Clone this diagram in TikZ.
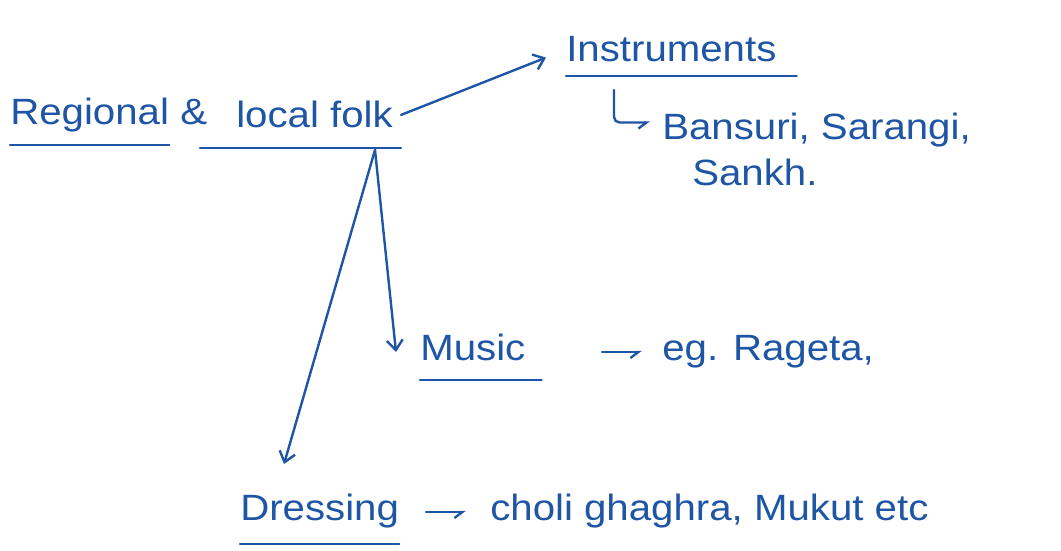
\documentclass[tikz,border=0pt]{standalone}
\usepackage{fontspec}
\setmainfont[FakeStretch=1.1]{Liberation Sans}
\usepackage{xcolor}
\usetikzlibrary{positioning,arrows.meta}
\definecolor{ink}{RGB}{30,85,165}

\begin{document}
\begin{tikzpicture}[
  x=0.025cm, y=-0.025cm,
  note/.style={text=ink, inner sep=0pt, anchor=base west,
               font=\fontsize{26}{31}\selectfont},
  ul/.style={draw=ink, line width=1.7pt, line cap=round},
  arr/.style={ul, -{Straight Barb[length=2.5mm,width=4mm]}},
  harp/.style={ul, -{Straight Barb[harpoon,swap,length=2mm,width=3mm]}}
]
\useasboundingbox (0,0) rectangle (1061,551);

\node[note] (regional) at (10,125)  {Regional};
\node[note] (amp)      at (180,125) {\&};
\node[note] (folk)     at (236,128) {local folk};
\node[note] (instr)    at (566,62)  {Instruments};
\node[note] (bansuri)  at (662,140) {Bansuri, Sarangi,};
\node[note] (sankh)    at (692,186) {Sankh.};
\node[note] (music)    at (420,360) {Music};
\node[note] (musiceg)  at (662,360) {eg. Rageta,};
\node[note] (dress)    at (240,520) {Dressing};
\node[note] (dresseg)  at (490,520) {choli ghaghra, Mukut etc};

\coordinate (split) at (375,150);

% underlines
\draw[ul] ([yshift=-5mm]regional.base west) -- ([yshift=-5mm]regional.base east);
\draw[ul] ([xshift=-9mm,yshift=-5mm]folk.base west) -- ([xshift=2mm,yshift=-5mm]folk.base east);
\draw[ul] ([yshift=-3.5mm]instr.base west) -- ([xshift=5mm,yshift=-3.5mm]instr.base east);
\draw[ul] ([yshift=-5mm]music.base west) -- ([xshift=4mm,yshift=-5mm]music.base east);
\draw[ul] ([yshift=-6mm]dress.base west) -- ([yshift=-6mm]dress.base east);

\draw[arr] ([xshift=2mm]folk.east) -- ([xshift=-5mm,yshift=-2mm]instr.west);
\draw[harp, rounded corners=4pt] ([xshift=12mm,yshift=-7mm]instr.base west)
  |- ([xshift=-3mm,yshift=2mm]bansuri.west);
\draw[arr] (split) -- ([xshift=-6mm,yshift=2mm]music.base west);
\draw[arr] (split) -- ([xshift=11mm,yshift=14mm]dress.base west);
\draw[harp] ([xshift=-15mm,yshift=2mm]musiceg.base west) -- ([xshift=-5mm,yshift=2mm]musiceg.base west);
\draw[harp] ([xshift=-16mm,yshift=2mm]dresseg.base west) -- ([xshift=-6mm,yshift=2mm]dresseg.base west);

\end{tikzpicture}
\end{document}
